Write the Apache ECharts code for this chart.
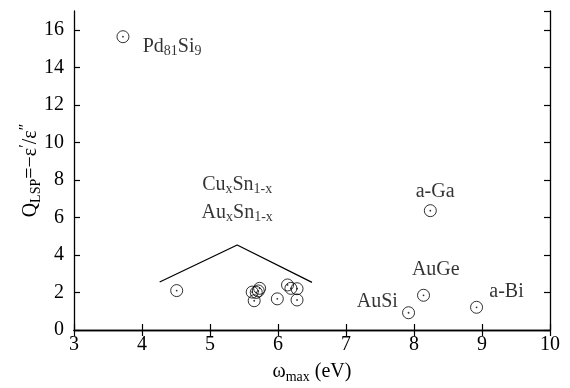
<!DOCTYPE html>
<html><head><meta charset="utf-8">
<script src="https://cdn.jsdelivr.net/npm/echarts@6/dist/echarts.min.js"></script>
<style>html,body{margin:0;padding:0;background:#fff}#c{width:570px;height:388px}</style>
</head><body><div id="c"></div>
<script>
var omegaMax = [3.72, 4.51, 5.62, 5.65, 5.68, 5.71, 5.73, 5.99, 6.14, 6.19, 6.28, 6.28, 7.92, 8.14, 8.24, 8.92];
var qLsp     = [15.63, 2.1, 2.02, 1.56, 2.0, 2.08, 2.22, 1.66, 2.4, 2.22, 2.2, 1.6, 0.92, 1.85, 6.36, 1.21];
var bracketX = [4.26, 5.40, 6.50];
var bracketY = [2.56, 4.53, 2.54];
var labelText = ['{n|Pd}{s|81}{n|Si}{s|9}', '{n|Cu}{s|x}{n|Sn}{s|1-x}', '{n|Au}{s|x}{n|Sn}{s|1-x}', '{n|a-Ga}', '{n|AuGe}', '{n|AuSi}', '{n|a-Bi}'];
var labelX = [4.01, 5.40, 5.40, 8.31, 8.32, 7.46, 9.36];
var labelY = [15.1, 7.75, 6.25, 7.36, 3.2, 1.49, 2.03];
var labelAlign = ['left', 'center', 'center', 'center', 'center', 'center', 'center'];
var xTicks = [3, 4, 5, 6, 7, 8, 9, 10];
var yTicks = [0, 2, 4, 6, 8, 10, 12, 14, 16];

var FONT = 'Liberation Serif';
var rich = {
  n: {fontFamily: FONT, fontSize: 20, color: '#000'},
  s: {fontFamily: FONT, fontSize: 14, color: '#000', padding: [10, 0, 0, 0]},
  p: {fontFamily: FONT, fontSize: 16, color: '#000', padding: [0, 0, 10, 0]}
};
var pts = omegaMax.map(function (x, i) { return [x, qLsp[i]]; });
var chart = echarts.init(document.getElementById('c'), null, {renderer: 'canvas'});
var axisCommon = {
  axisLine: {show: true, lineStyle: {color: '#000', width: 1.3}},
  axisTick: {show: true, inside: true, length: 6, lineStyle: {color: '#000', width: 1.2}},
  splitLine: {show: false},
  axisLabel: {color: '#000', fontFamily: FONT, fontSize: 20}
};
chart.setOption({
  animation: false,
  backgroundColor: '#fff',
  grid: {left: 74, right: 20, top: 11, bottom: 58, containLabel: false, outerBoundsMode: 'none'},
  xAxis: [
    Object.assign({}, axisCommon, {type: 'value', min: xTicks[0], max: xTicks[xTicks.length - 1], interval: 1,
      axisLabel: Object.assign({}, axisCommon.axisLabel, {margin: 5}),
      name: '{n|ω}{s|max}{n| (eV)}', nameLocation: 'middle', nameGap: 30, nameMoveOverlap: false,
      nameTextStyle: {rich: rich}}),
    Object.assign({}, axisCommon, {type: 'value', position: 'top', min: xTicks[0], max: xTicks[xTicks.length - 1], interval: 1,
      axisLabel: {show: false}})
  ],
  yAxis: [
    Object.assign({}, axisCommon, {type: 'value', min: 0, max: 17, interval: 2,
      axisLabel: Object.assign({}, axisCommon.axisLabel, {margin: 10, showMaxLabel: false}),
      name: '{n|Q}{s|LSP}{n|=−ε}{p|′}{n|/ε}{p|″}', nameLocation: 'middle', nameGap: 30, nameRotate: 90,
      nameMoveOverlap: false,
      nameTextStyle: {rich: rich}}),
    Object.assign({}, axisCommon, {type: 'value', position: 'right', min: 0, max: 17, interval: 2,
      axisLabel: {show: false}})
  ],
  series: [
    {type: 'line', data: bracketX.map(function (x, i) { return [x, bracketY[i]]; }), symbol: 'none',
      lineStyle: {color: '#000', width: 1.3}, silent: true},
    {type: 'scatter', data: pts, symbol: 'circle', symbolSize: 12,
      itemStyle: {color: 'rgba(0,0,0,0)', borderColor: '#000', borderWidth: 1}},
    {type: 'scatter', data: pts, symbol: 'circle', symbolSize: 1.8, itemStyle: {color: '#000'}},
    {type: 'scatter', symbolSize: 0, data: labelX.map(function (x, i) {
      return {value: [x, labelY[i]], label: {show: true, position: 'inside', align: labelAlign[i], verticalAlign: 'middle',
        color: '#000', formatter: labelText[i], rich: rich}};
    })}
  ]
});
</script></body></html>
